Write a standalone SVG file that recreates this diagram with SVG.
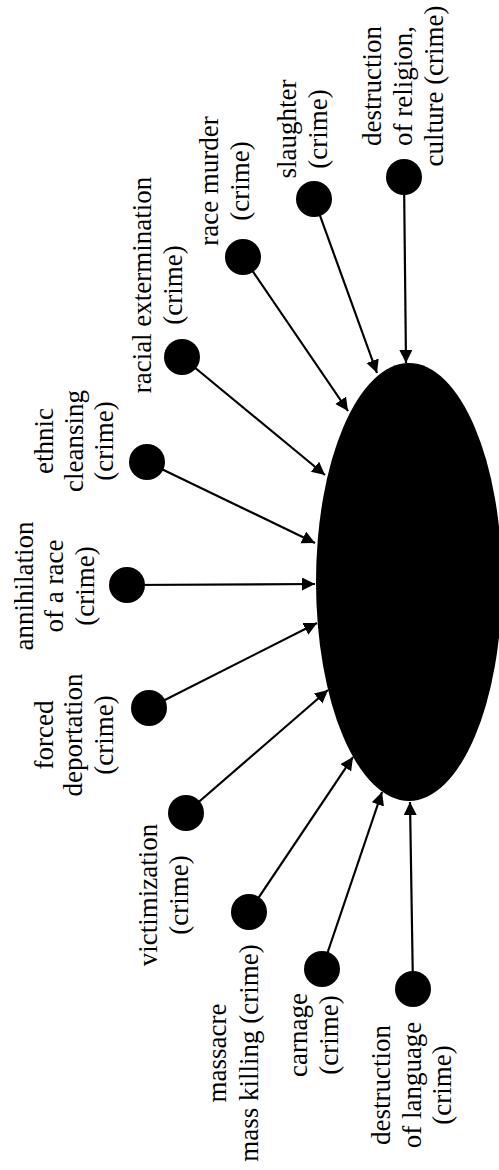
<svg xmlns="http://www.w3.org/2000/svg" width="499" height="1170" viewBox="0 0 499 1170">
<style>
.lbl{font-family:"Liberation Serif","Times New Roman",serif;font-size:27px;fill:#000;text-anchor:middle}
.dot{fill:#000}
.edge{stroke:#000;stroke-width:2.2;fill:none;marker-end:url(#ah)}
</style>
<defs>
<marker id="ah" markerUnits="userSpaceOnUse" markerWidth="14" markerHeight="14" refX="13" refY="6.5" orient="auto">
<path d="M0,0 L13,6.5 L0,13 z" fill="#000"/>
</marker>
</defs>
<rect width="499" height="1170" fill="#fff"/>
<g id="connectors">
<line class="edge" x1="404" y1="177" x2="406" y2="363"/>
<line class="edge" x1="314" y1="199" x2="377" y2="373"/>
<line class="edge" x1="243" y1="257" x2="348" y2="411"/>
<line class="edge" x1="182" y1="357" x2="325" y2="475"/>
<line class="edge" x1="147" y1="462" x2="315" y2="543"/>
<line class="edge" x1="127" y1="585" x2="315" y2="584"/>
<line class="edge" x1="149" y1="708" x2="317" y2="623"/>
<line class="edge" x1="186" y1="813" x2="328" y2="690"/>
<line class="edge" x1="249" y1="912" x2="353" y2="757"/>
<line class="edge" x1="322" y1="969" x2="382" y2="792"/>
<line class="edge" x1="413" y1="989" x2="410" y2="802"/>
</g>
<g id="center">
<ellipse cx="409" cy="582" rx="93" ry="219" fill="#000"/>
</g>
<g id="n-religion">
<circle class="dot" cx="404" cy="177" r="18"/>
<text class="lbl" transform="translate(381,86) rotate(-90)"><tspan x="0" y="0">destruction</tspan><tspan x="0" dy="31">of religion,</tspan><tspan x="0" dy="31">culture (crime)</tspan></text>
</g>
<g id="n-slaughter">
<circle class="dot" cx="314" cy="199" r="18"/>
<text class="lbl" transform="translate(296,129) rotate(-90)"><tspan x="0" y="0">slaughter</tspan><tspan x="0" dy="31">(crime)</tspan></text>
</g>
<g id="n-race-murder">
<circle class="dot" cx="243" cy="257" r="18"/>
<text class="lbl" transform="translate(218,181) rotate(-90)"><tspan x="0" y="0">race murder</tspan><tspan x="0" dy="31">(crime)</tspan></text>
</g>
<g id="n-racial-extermination">
<circle class="dot" cx="182" cy="357" r="18"/>
<text class="lbl" transform="translate(151,285) rotate(-90)"><tspan x="0" y="0">racial extermination</tspan><tspan x="0" dy="31">(crime)</tspan></text>
</g>
<g id="n-ethnic-cleansing">
<circle class="dot" cx="147" cy="462" r="18"/>
<text class="lbl" transform="translate(53,441) rotate(-90)"><tspan x="0" y="0">ethnic</tspan><tspan x="0" dy="30">cleansing</tspan><tspan x="0" dy="30">(crime)</tspan></text>
</g>
<g id="n-annihilation">
<circle class="dot" cx="127" cy="585" r="18"/>
<text class="lbl" transform="translate(33,586) rotate(-90)"><tspan x="0" y="0">annihilation</tspan><tspan x="0" dy="30">of a race</tspan><tspan x="0" dy="31">(crime)</tspan></text>
</g>
<g id="n-forced-deportation">
<circle class="dot" cx="149" cy="708" r="18"/>
<text class="lbl" transform="translate(53,735) rotate(-90)"><tspan x="0" y="0">forced</tspan><tspan x="0" dy="29">deportation</tspan><tspan x="0" dy="31">(crime)</tspan></text>
</g>
<g id="n-victimization">
<circle class="dot" cx="186" cy="813" r="18"/>
<text class="lbl" transform="translate(157,895) rotate(-90)"><tspan x="0" y="0">victimization</tspan><tspan x="0" dy="31">(crime)</tspan></text>
</g>
<g id="n-massacre">
<circle class="dot" cx="249" cy="912" r="18"/>
<text class="lbl" transform="translate(226,1053) rotate(-90)"><tspan x="0" y="0">massacre</tspan><tspan x="0" dy="32">mass killing (crime)</tspan></text>
</g>
<g id="n-carnage">
<circle class="dot" cx="322" cy="969" r="18"/>
<text class="lbl" transform="translate(307,1035) rotate(-90)"><tspan x="0" y="0">carnage</tspan><tspan x="0" dy="31">(crime)</tspan></text>
</g>
<g id="n-language">
<circle class="dot" cx="413" cy="989" r="18"/>
<text class="lbl" transform="translate(390,1085) rotate(-90)"><tspan x="0" y="0">destruction</tspan><tspan x="0" dy="31">of language</tspan><tspan x="0" dy="30">(crime)</tspan></text>
</g>
</svg>
